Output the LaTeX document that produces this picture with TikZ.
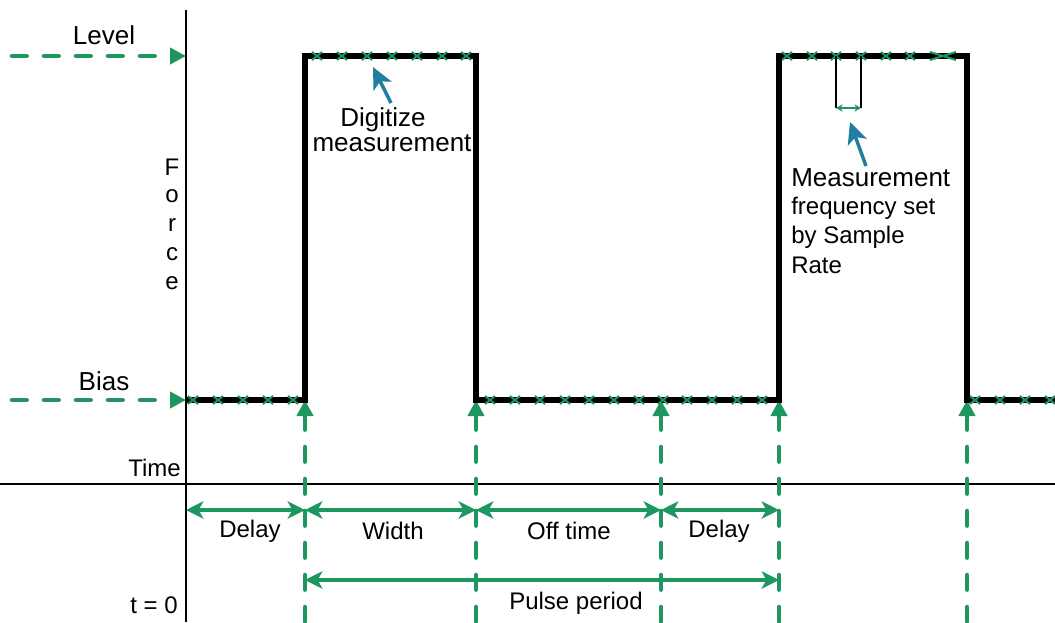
\documentclass[tikz,border=0pt]{standalone}
\usepackage{fontspec}
\setmainfont{Liberation Sans}
\usetikzlibrary{arrows.meta}
\definecolor{grn}{RGB}{30,150,96}
\definecolor{blu}{RGB}{32,126,160}
\newcommand\digfont{\fontsize{19.5}{18.5}\selectfont\lineskiplimit=-30pt\relax}
\begin{document}
\begin{tikzpicture}[x=0.75pt,y=-0.75pt,
  axis/.style={line width=1.1pt},
  sig/.style={line width=4.2pt, line join=miter},
  guide/.style={grn, line width=3.4pt, dash pattern=on 11pt off 13pt, line cap=round},
  tipT/.style={-{Triangle[length=12pt,width=12pt]}},
  tipTrev/.style={{Triangle[length=12pt,width=12pt]}-},
  dim/.style={grn, line width=2.9pt, {Stealth[length=13pt,width=13pt,inset=3.5pt]}-{Stealth[length=13pt,width=13pt,inset=3.5pt]}},
  bluarrow/.style={blu, line width=2.6pt, -{Stealth[length=16pt,width=15pt,inset=4pt]}},
  lbl/.style={font=\fontsize{18}{21}\selectfont, inner sep=0pt},
  biglbl/.style={font=\fontsize{19.5}{21}\selectfont, inner sep=0pt},
  xm/.pic={\draw[grn,line width=1.5pt] (-5,-4)--(5,4) (-5,4)--(5,-4);},
  xmbig/.pic={\draw[grn,line width=1.5pt] (-13,-4)--(13,4) (-13,4)--(13,-4);}
]
\useasboundingbox (0,0) rectangle (1055,622);

% axes
\coordinate (yaxTop) at (186,10);
\coordinate (yaxBot) at (186,622);
\coordinate (xaxL) at (0,484);
\coordinate (xaxR) at (1055,484);
\draw[axis] (yaxTop) -- (yaxBot);
\draw[axis] (xaxL) -- (xaxR);

% level / bias guide arrows
\coordinate (lvlL) at (12,56);
\coordinate (lvlR) at (186,56);
\coordinate (biasL) at (12,400);
\coordinate (biasR) at (186,400);
\draw[guide, tipT] (lvlL) -- (lvlR);
\draw[guide, tipT] (biasL) -- (biasR);

% vertical guides
\foreach \gx [count=\i] in {305,476,661,779,967}{
  \coordinate (gTop\i) at (\gx,400);
  \coordinate (gBot\i) at (\gx,622);
  \draw[guide, tipTrev] (gTop\i) -- (gBot\i);
}

% signal
\coordinate (b0) at (186,400);
\coordinate (p1bl) at (305,400);
\coordinate (p1tl) at (305,56);
\coordinate (p1tr) at (476,56);
\coordinate (p1br) at (476,400);
\coordinate (p2bl) at (779,400);
\coordinate (p2tl) at (779,56);
\coordinate (p2tr) at (967,56);
\coordinate (p2br) at (967,400);
\coordinate (bEnd) at (1055,400);
\draw[sig] (b0) -- (p1bl) -- (p1tl) -- (p1tr) -- (p1br) -- (p2bl) -- (p2tl) -- (p2tr) -- (p2br) -- (bEnd);

% sample marks
\foreach \mx in {193,218,243,268,293, 490,515,540,565,589,614,639,663,687,712,737,762, 975,1000,1025,1050}
  \pic at (\mx,400) {xm};
\foreach \mx in {317,342,367,392,417,442,466, 787,812,836,861,886,910}
  \pic at (\mx,56) {xm};
\pic at (943,56) {xmbig};

% measurement frequency bracket
\coordinate (mfa) at (836,56);
\coordinate (mfb) at (861,56);
\coordinate (mfa2) at (836,108);
\coordinate (mfb2) at (861,108);
\draw[line width=1.1pt] (mfa) -- (mfa2);
\draw[line width=1.1pt] (mfb) -- (mfb2);
\draw[grn, line width=1.6pt, {Stealth[length=5pt,width=5.5pt]}-{Stealth[length=5pt,width=5.5pt]}] (mfa2) -- (mfb2);

% blue pointer arrows
\coordinate (da1) at (391,103);
\coordinate (da2) at (373,67);
\draw[bluarrow] (da1) -- (da2);
\coordinate (ma1) at (866,166);
\coordinate (ma2) at (850,122);
\draw[bluarrow] (ma1) -- (ma2);

% dimension arrows
\coordinate (d0) at (186,510);
\coordinate (d1) at (305,510);
\coordinate (d2) at (476,510);
\coordinate (d3) at (661,510);
\coordinate (d4) at (779,510);
\draw[dim] (d0) -- (d1);
\draw[dim] (d1) -- (d2);
\draw[dim] (d2) -- (d3);
\draw[dim] (d3) -- (d4);
\coordinate (pp0) at (305,580);
\coordinate (pp1) at (779,580);
\draw[dim] (pp0) -- (pp1);

% labels
\node[biglbl] (tLevel) at (104,35) {Level};
\node[biglbl] (tBias) at (104,381) {Bias};
\node[lbl, anchor=east] (tTime) at (181,468) {Time};
\node[lbl, anchor=east] (tZero) at (178,605) {t = 0};
\node[lbl] (fF) at (172,167) {F};
\node[lbl] (fo) at (172,196) {o};
\node[lbl] (fr) at (172,225) {r};
\node[lbl] (fc) at (172,254) {c};
\node[lbl] (fe) at (172,283) {e};
\node[lbl] (tD1) at (250,531) {Delay};
\node[lbl] (tW) at (393,531) {Width};
\node[lbl] (tOff) at (569,531) {Off time};
\node[lbl] (tD2) at (719,531) {Delay};
\node[lbl] (tPP) at (576,603) {Pulse period};
\node[inner sep=0pt, align=center, font=\digfont] (tDig) at (392,130)
  {\hspace*{-13.5pt}Digitize\\measurement};
\node[biglbl, anchor=west] (tM) at (791,178) {Measurement};
\node[lbl, anchor=west] (tF1) at (791,208) {frequency set};
\node[lbl, anchor=west] (tF2) at (791,237) {by Sample};
\node[lbl, anchor=west] (tF3) at (791,265) {Rate};
\end{tikzpicture}
\end{document}
